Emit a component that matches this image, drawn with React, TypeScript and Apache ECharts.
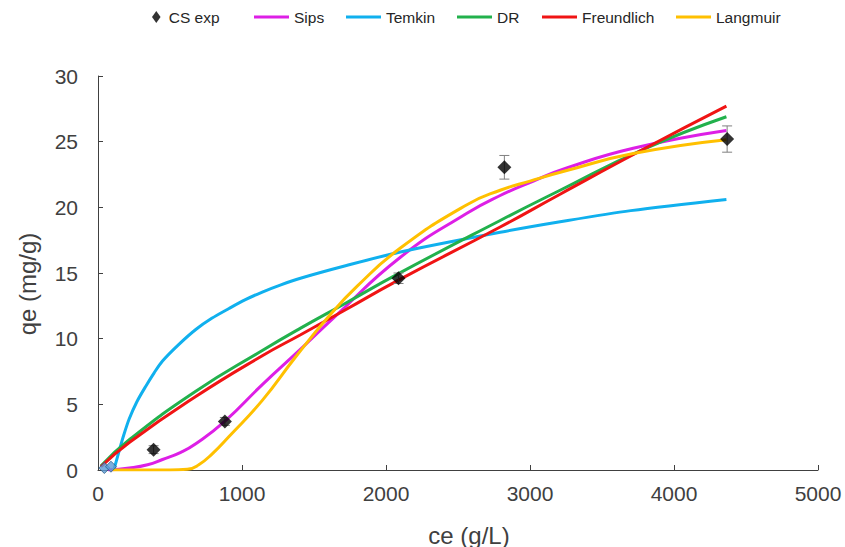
import { useEffect, useRef } from "react";
import * as echarts from "echarts";

// Experimental adsorption data (ce in g/L, qe in mg/g)
const ceExp = [386, 881, 2087, 2822, 4369];
const qeExp = [1.55, 3.7, 14.6, 23.05, 25.2];
const qeErr = [0.3, 0.3, 0.4, 0.9, 1.0];

// Low-concentration points near the origin
const ceLow = [44, 90];
const qeLow = [0.15, 0.25];

// Model curves as [ce, qe] pairs
const sipsCurve = [
  [70, 0], [217, 0.15], [344, 0.4], [448, 0.8], [575, 1.35], [679, 2.0],
  [880, 3.7], [1141, 6.5], [1407, 9.2], [1638, 11.6], [2100, 16.2],
  [2562, 19.55], [2793, 20.9], [3024, 22.0], [3255, 23.0], [3717, 24.5],
  [4364, 25.85],
];
const temkinCurve = [
  [110, 0], [148, 1.5], [180, 2.7], [217, 3.9], [270, 5.2], [333, 6.4],
  [390, 7.4], [448, 8.3], [560, 9.55], [679, 10.7], [790, 11.55], [910, 12.3],
  [1020, 12.95], [1141, 13.55], [1270, 14.1], [1406, 14.6], [1719, 15.55],
  [2100, 16.6], [2793, 18.1], [3209, 18.9], [3700, 19.75], [4364, 20.6],
];
const drCurve = [
  [20, 0.3], [217, 2.3], [679, 6.0], [1141, 9.1], [1407, 10.8], [1719, 12.7],
  [2077, 14.9], [2793, 19.0], [3209, 21.3], [3784, 24.4], [4364, 26.9],
];
const freundlichCurve = [
  [20, 0.25], [217, 2.1], [679, 5.6], [1141, 8.7], [1407, 10.3], [1719, 12.2],
  [2077, 14.4], [2793, 18.5], [3209, 21.0], [3784, 24.4], [4364, 27.7],
];
const langmuirCurve = [
  [100, 0], [500, 0], [620, 0.05], [700, 0.4], [795, 1.25], [910, 2.55],
  [1141, 5.3], [1372, 8.6], [1603, 11.7], [1800, 14.0], [2100, 16.9],
  [2562, 20.2], [2793, 21.3], [3000, 22.0], [3255, 22.8], [3717, 24.1],
  [4364, 25.15],
];

const xTicks = { min: 0, max: 5000, interval: 1000 };
const yTicks = { min: 0, max: 30, interval: 5 };

const FONT = "'Liberation Sans', Arial, sans-serif";
const AXIS_COLOR = "#404040";

const lineSeries = (name: string, data: number[][], color: string, smooth: number) => ({
  name,
  type: "line",
  data,
  symbol: "none",
  smooth,
  lineStyle: { color, width: 3 },
  itemStyle: { color },
  z: 3,
});

const lineLegend = (name: string, left: number) => ({
  data: [{ name, icon: "rect" }],
  left,
  top: 9,
  padding: 0,
  itemWidth: 35,
  itemHeight: 3,
  textStyle: { fontFamily: FONT, fontSize: 15.5, color: "#262626" },
});

export default function App() {
  const ref = useRef<HTMLDivElement>(null);

  useEffect(() => {
    const chart = echarts.init(ref.current!, null, { renderer: "svg" });
    chart.setOption({
      animation: false,
      backgroundColor: "#ffffff",
      grid: { left: 98, right: 27, top: 76, bottom: 77, containLabel: false },
      legend: [
        {
          data: [{ name: "CS exp", icon: "path://M5,0L10,7L5,14L0,7Z" }],
          left: 152,
          top: 9,
          padding: 0,
          itemWidth: 15,
          itemHeight: 12,
          textStyle: { fontFamily: FONT, fontSize: 15.5, color: "#262626" },
        },
        lineLegend("Sips", 254),
        lineLegend("Temkin", 346),
        lineLegend("DR", 457),
        lineLegend("Freundlich", 542),
        lineLegend("Langmuir", 676),
      ],
      xAxis: {
        type: "value",
        ...xTicks,
        axisLine: { lineStyle: { color: AXIS_COLOR, width: 1 } },
        axisTick: { inside: true, length: 5, lineStyle: { color: AXIS_COLOR } },
        axisLabel: {
          fontFamily: FONT,
          fontSize: 21,
          color: AXIS_COLOR,
          margin: 13,
          formatter: (v: number) => String(v),
        },
        splitLine: { show: false },
      },
      yAxis: {
        type: "value",
        ...yTicks,
        axisLine: { show: true, lineStyle: { color: AXIS_COLOR, width: 1 } },
        axisTick: { show: true, inside: true, length: 5, lineStyle: { color: AXIS_COLOR } },
        axisLabel: {
          fontFamily: FONT,
          fontSize: 21,
          color: AXIS_COLOR,
          margin: 20,
          formatter: (v: number) => String(v),
        },
        splitLine: { show: false },
      },
      graphic: [
        {
          type: "text",
          x: 15,
          y: 284,
          rotation: Math.PI / 2,
          style: {
            text: "qe (mg/g)",
            font: `24px ${FONT}`,
            fill: AXIS_COLOR,
            align: "center",
            verticalAlign: "top",
          },
        },
        {
          type: "text",
          x: 469,
          y: 523,
          style: {
            text: "ce (g/L)",
            font: `24px ${FONT}`,
            fill: AXIS_COLOR,
            align: "center",
            verticalAlign: "top",
          },
        },
      ],
      series: [
        lineSeries("Sips", sipsCurve, "#dd1fe6", 0.5),
        lineSeries("Temkin", temkinCurve, "#10b0ee", 0.3),
        lineSeries("DR", drCurve, "#22b14c", 0.5),
        lineSeries("Freundlich", freundlichCurve, "#f01414", 0.5),
        lineSeries("Langmuir", langmuirCurve, "#ffc000", 0.5),
        {
          name: "CS exp error",
          type: "custom",
          data: ceExp.map((c, i) => [c, qeExp[i], qeErr[i]]),
          encode: { x: 0, y: 1 },
          z: 4,
          renderItem: (_params: any, api: any) => {
            const x = api.value(0);
            const y = api.value(1);
            const e = api.value(2);
            const hi = api.coord([x, y + e]);
            const lo = api.coord([x, y - e]);
            const w = 5;
            const style = { stroke: "#808080", lineWidth: 1 };
            return {
              type: "group",
              children: [
                { type: "line", shape: { x1: hi[0], y1: hi[1], x2: lo[0], y2: lo[1] }, style },
                { type: "line", shape: { x1: hi[0] - w, y1: hi[1], x2: hi[0] + w, y2: hi[1] }, style },
                { type: "line", shape: { x1: lo[0] - w, y1: lo[1], x2: lo[0] + w, y2: lo[1] }, style },
              ],
            };
          },
        },
        {
          name: "CS exp",
          type: "scatter",
          data: ceExp.map((c, i) => [c, qeExp[i]]),
          symbol: "diamond",
          symbolSize: 14,
          itemStyle: { color: "#000000" },
          z: 5,
        },
        {
          name: "CS exp low",
          type: "scatter",
          data: ceLow.map((c, i) => [c, qeLow[i]]),
          symbol: "diamond",
          symbolSize: 11,
          itemStyle: { color: "#5b9bd5", borderColor: "#2e5f8a", borderWidth: 1 },
          z: 5,
        },
      ],
    });
    return () => chart.dispose();
  }, []);

  return (
    <div
      ref={ref}
      style={{ position: "fixed", left: 0, top: 0, width: 845, height: 547 }}
    />
  );
}
